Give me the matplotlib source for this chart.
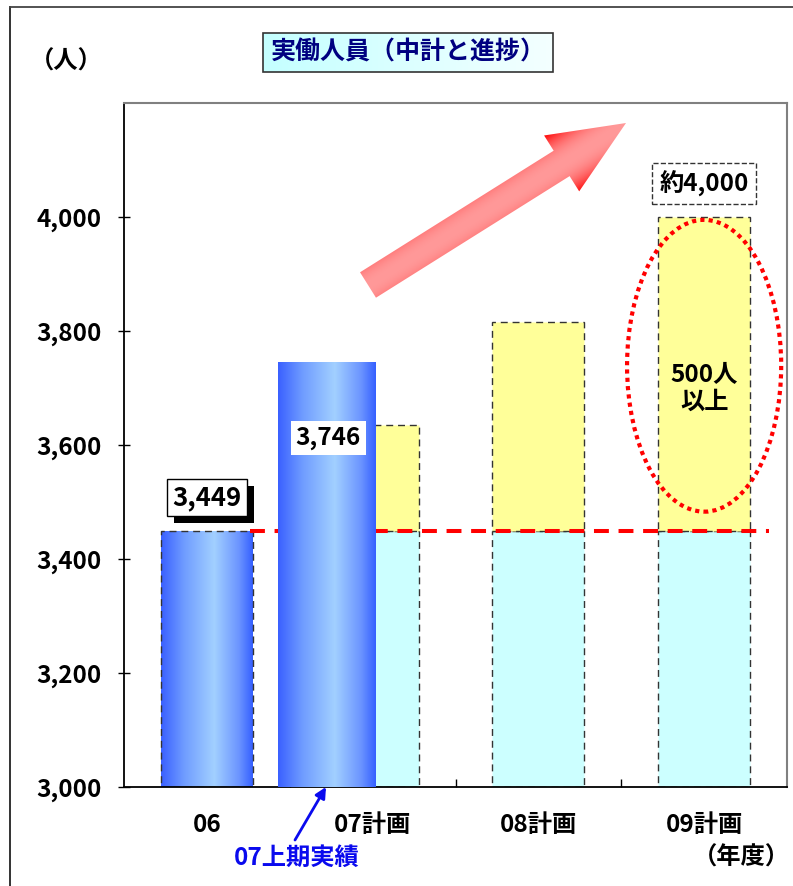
import numpy as np
import matplotlib
matplotlib.use("Agg")
import matplotlib.pyplot as plt
import matplotlib.patheffects as pe
from matplotlib.patches import Rectangle, Ellipse, Polygon
from matplotlib.colors import LinearSegmentedColormap

plt.rcParams['font.family'] = ['Noto Sans CJK JP', 'DejaVu Sans']
plt.rcParams['font.weight'] = 'bold'

# 実働人員データ
categories = ["06", "07計画", "08計画", "09計画"]
base_staff = 3449                      # 06年度実績 = 各計画のベース
plan_totals = [np.nan, 3635, 3815, 4000]
actual_06 = 3449
actual_07_h1 = 3746                    # 07上期実績
yticks = [3000, 3200, 3400, 3600, 3800, 4000]

W, H = 793, 886
FS = 17.5
bw = 0.555                             # 計画バー幅
Y0 = 3000

fig = plt.figure(figsize=(W / 100, H / 100), dpi=100)
ax = fig.add_axes([124 / W, 1 - 787 / H, (787 - 124) / W, (787 - 103) / H])

blue = LinearSegmentedColormap.from_list(
    "bar", [(0, "#3a60ff"), (0.25, "#6f9cff"), (0.58, "#a2d0ff"), (0.85, "#6b94ff"), (1, "#3560ff")])
grad = np.linspace(0, 1, 256)[None, :]


def gradient_bar(x, width, top, z=4):
    p = ax.bar(x, top - Y0, width, bottom=Y0, color="none", zorder=z)[0]
    im = ax.imshow(grad, extent=(x - width / 2, x + width / 2, Y0, top),
                   aspect="auto", cmap=blue, zorder=z)
    im.set_clip_path(p)


dash = (0, (5, 3.5))
# 計画バー(ベース部 + 増員部)
for i, total in enumerate(plan_totals):
    if np.isnan(total):
        continue
    ax.bar(i, base_staff - Y0, bw, bottom=Y0, color="#ccffff",
           edgecolor="#333333", linestyle=dash, lw=1, zorder=1)
    ax.bar(i, total - base_staff, bw, bottom=base_staff, color="#ffff99",
           edgecolor="#333333", linestyle=dash, lw=1, zorder=1)

# 06実績
gradient_bar(0, bw, actual_06, z=2)
ax.add_patch(Rectangle((-bw / 2, Y0), bw, actual_06 - Y0, fill=False,
                       edgecolor="#333333", linestyle=dash, lw=1, zorder=2.5))
# 07上期実績
x07 = 1 - 0.277
gradient_bar(x07, 0.59, actual_07_h1, z=4)

# ベースライン
ax.hlines(base_staff, 0.26, 3.39, colors="#ff0000", linestyles=(0, (3.7, 2.4)),
          lw=2.9, zorder=3)

# 09計画の増員部を囲む楕円
ax.add_patch(Ellipse((3, 3739), 0.93, 512, fill=False, edgecolor="#ff0000",
                     linestyle=(0, (1, 1)), lw=3, zorder=6))
ax.text(3, 3700, "500人\n以上", ha="center", va="center", fontsize=FS,
        linespacing=1.15, zorder=7)

# 値ラベル
t = ax.annotate(f"{actual_06:,}", (0, actual_06), xytext=(0, 24), textcoords="offset points",
                ha="center", va="center", fontsize=FS + 1, zorder=8,
                bbox=dict(boxstyle="square,pad=0.2", fc="white", ec="black", lw=1))
t.get_bbox_patch().set_path_effects(
    [pe.SimplePatchShadow(offset=(5, -5), shadow_rgbFace="black", alpha=1), pe.Normal()])
ax.annotate(f"{actual_07_h1:,}", (x07, actual_07_h1), xytext=(1, -55), textcoords="offset points",
            ha="center", va="center", fontsize=FS, zorder=8,
            bbox=dict(boxstyle="square,pad=0.2", fc="white", ec="none"))
ax.annotate(f"約{plan_totals[3]:,}", (3, plan_totals[3]), xytext=(0, 24), textcoords="offset points",
            ha="center", va="center", fontsize=FS, zorder=8,
            bbox=dict(boxstyle="square,pad=0.3", fc="white", ec="#333333", lw=1, ls="--"))

ax.set_xlim(-0.5, 3.5)
ax.set_ylim(Y0, 4200)
ax.set_yticks(yticks)
ax.set_yticklabels([f"{v:,}" for v in yticks], fontsize=FS)
ax.set_xticks(range(len(categories)))
ax.set_xticklabels(categories, fontsize=FS)
ax.set_xticks([0.5, 1.5, 2.5], minor=True)
ax.tick_params(axis="y", direction="inout", length=8, width=1, pad=12)
ax.tick_params(axis="x", which="major", length=0, pad=19)
ax.tick_params(axis="x", which="minor", direction="in", length=6, width=1)
for s in ("left", "bottom"):
    ax.spines[s].set_color("black")
    ax.spines[s].set_linewidth(1.3)
for s in ("top", "right"):
    ax.spines[s].set_color("#808080")
    ax.spines[s].set_linewidth(1.5)

# ---- 装飾(ピクセル座標のオーバーレイ)
ov = fig.add_axes([0, 0, 1, 1], zorder=10)
ov.patch.set_alpha(0)
ov.axis("off")

# 外枠
ov.plot([10, 10], [H, 7], color="#222222", lw=1.3)
ov.plot([10, W], [7, 7], color="#444444", lw=1.3)

# タイトル
tb = Rectangle((263, 33), 290, 39, fill=False, edgecolor="#333333", lw=1.2)
ov.add_patch(tb)
tgrad = LinearSegmentedColormap.from_list("tb", ["#c4ffff", "#f4ffff"])
im = ov.imshow(grad, extent=(263, 553, 72, 33), aspect="auto", cmap=tgrad, zorder=0.5)
im.set_clip_path(tb)
ov.text(408, 52, "実働人員（中計と進捗）", ha="center", va="center",
        fontsize=FS + 0.5, color="#000080")

ov.text(66, 62, "（人）", ha="center", va="center", fontsize=FS)
ov.text(741, 858, "（年度）", ha="center", va="center", fontsize=FS)
ov.text(297, 858, "07上期実績", ha="center", va="center", fontsize=FS, color="#0a0aee")
ov.annotate("", xy=(326, 787), xytext=(295, 840),
            arrowprops=dict(arrowstyle="-|>", color="#0a0aee", lw=2, mutation_scale=16,
                            shrinkA=0, shrinkB=0))

# 増加傾向の矢印
tail = np.array([368.0, 285.0])
tip = np.array([626.0, 123.0])
u = (tip - tail) / np.linalg.norm(tip - tail)
n = np.array([-u[1], u[0]])
hb = tip - u * 76
pts = [tail + n * 15, hb + n * 15, hb + n * 33, tip, hb - n * 33, hb - n * 15, tail - n * 15]
arr = Polygon(pts, closed=True, fill=False, edgecolor="none")
ov.add_patch(arr)
xs, ys = np.meshgrid(np.arange(330, 650), np.arange(100, 320))
d = np.abs((xs - tail[0]) * n[0] + (ys - tail[1]) * n[1])
tt = np.clip(d / 34, 0, 1)
gb = 0.6 * (1 - tt ** 2.2)
rgb = np.dstack([np.ones_like(gb), gb, gb])
im = ov.imshow(rgb, extent=(330, 650, 320, 100), aspect="auto", origin="upper")
im.set_clip_path(arr)

ov.set_xlim(0, W)
ov.set_ylim(H, 0)

fig.savefig("out.png", dpi=100)
